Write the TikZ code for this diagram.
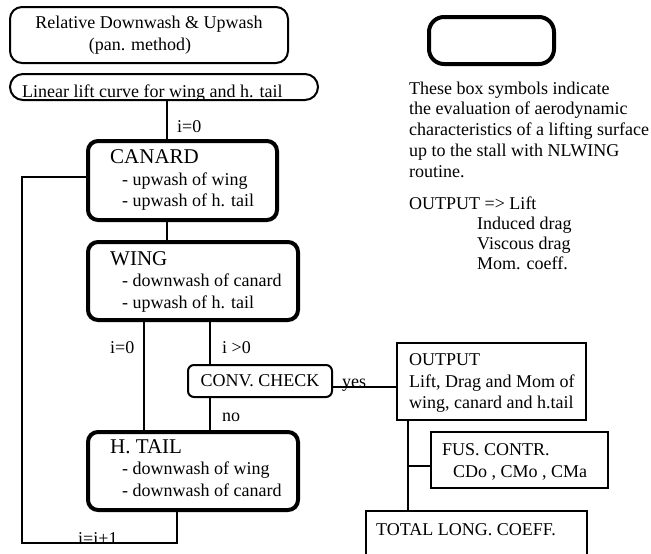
\documentclass[tikz,border=0pt]{standalone}
\usepackage{fontspec}
\setmainfont{Liberation Serif}
\newcommand\hdfont{\fontsize{21}{21}\selectfont}
\begin{document}
\begin{tikzpicture}[x=1pt,y=-1pt,
  every node/.style={font=\fontsize{18}{21.5}\selectfont, inner sep=0pt},
  rbox/.style={draw, line width=2pt, rounded corners=12pt},
  tbox/.style={draw, line width=4pt, rounded corners=10pt},
  sbox/.style={draw, line width=2.5pt},
  conn/.style={line width=2pt},
  txt/.style={align=left, anchor=west},
  lbl/.style={anchor=base west}
]
\useasboundingbox (0,0) rectangle (651,554);

% top boxes
\node[rbox, minimum width=278pt, minimum height=56pt, align=center] (rdu) at (149,35)
  {Relative Downwash \& Upwash\\(pan. method)\hspace*{18pt}};
\node[rbox, rounded corners=13pt, minimum width=308pt, minimum height=26pt] (lin) at (164,87) {};
\node[lbl] (lint) at (22,97) {Linear lift curve for wing and h. tail};

% thick boxes
\node[tbox, minimum width=189pt, minimum height=79pt] (can) at (182.5,180.5) {};
\node[txt] (cant) at (110,180) {{\hdfont CANARD}\\\hspace*{12pt}- upwash of wing\\\hspace*{12pt}- upwash of h. tail};
\node[tbox, minimum width=210pt, minimum height=78pt] (wing) at (193,281) {};
\node[txt] (wingt) at (110,281.5) {{\hdfont WING}\\\hspace*{12pt}- downwash of canard\\\hspace*{12pt}- upwash of h. tail};
\node[tbox, minimum width=210pt, minimum height=78pt] (tail) at (193,471) {};
\node[txt] (tailt) at (110,468) {{\hdfont H. TAIL}\\\hspace*{12pt}- downwash of wing\\\hspace*{12pt}- downwash of canard};

% conv check
\node[rbox, rounded corners=6pt, minimum width=144pt, minimum height=32pt] (conv) at (260,381) {CONV. CHECK};

% output boxes
\node[sbox, minimum width=189pt, minimum height=77pt] (out) at (491.5,381.5) {};
\node[txt] (outt) at (409,383) {OUTPUT\\Lift, Drag and Mom of\\wing, canard and h.tail};
\node[sbox, minimum width=177pt, minimum height=56pt] (fus) at (519.5,460) {};
\node[txt] (fust) at (442,462) {FUS. CONTR.\\\hspace*{11pt}CDo , CMo , CMa};
\node[minimum width=221pt, minimum height=59pt] (tot) at (476.5,540.5) {};
\draw[sbox] (tot.south west) -- (tot.north west) -- (tot.north east) -- (tot.south east);
\node[lbl] (tott) at (376,535) {TOTAL LONG. COEFF.};

% legend
\node[tbox, rounded corners=15pt, minimum width=125pt, minimum height=47pt] (leg) at (491.5,40.5) {};
\node[align=left, anchor=north west, font=\fontsize{18}{20.8}\selectfont] (legt) at (409,81.5)
  {These box symbols indicate\\the evaluation of aerodynamic\\characteristics of a lifting surface\\up to the stall with NLWING\\routine.};
\node[align=left, anchor=north west, font=\fontsize{18}{20}\selectfont] (lego) at (409,197)
  {OUTPUT => Lift\\\hspace*{68pt}Induced drag\\\hspace*{68pt}Viscous drag\\\hspace*{68pt}Mom. coeff.};

% connectors
\coordinate (xa) at (167,0);
\coordinate (xb) at (144,0);
\coordinate (xc) at (210,0);
\coordinate (xr) at (177,0);
\coordinate (xd) at (408,0);
\coordinate (ly) at (0,177);
\coordinate (lb) at (22,543);
\coordinate (yy) at (0,387);
\coordinate (yf) at (0,466);
\draw[conn] (lin.south -| xa) -- (can.north -| xa);
\draw[conn] (can.south -| xa) -- (wing.north -| xa);
\draw[conn] (can.west |- ly) -- (lb |- ly) -- (lb) -- (lb -| xr) -- (tail.south -| xr);
\draw[conn] (wing.south -| xb) -- (tail.north -| xb);
\draw[conn] (wing.south -| xc) -- (conv.north -| xc);
\draw[conn] (conv.south -| xc) -- (tail.north -| xc);
\draw[conn] (conv.east |- yy) -- (out.west |- yy);
\draw[conn] (out.south -| xd) -- (tot.north -| xd);
\draw[conn] (xd |- yf) -- (fus.west |- yf);

% labels
\node[lbl] (l1) at (177,132) {i=0};
\node[lbl] (l2) at (110,353) {i=0};
\node[lbl] (l3) at (222,353) {i >0};
\node[lbl] (l4) at (222,421) {no};
\node[lbl] (l5) at (342,387) {yes};
\node[lbl] (l6) at (78,544) {i=i+1};
\end{tikzpicture}
\end{document}
